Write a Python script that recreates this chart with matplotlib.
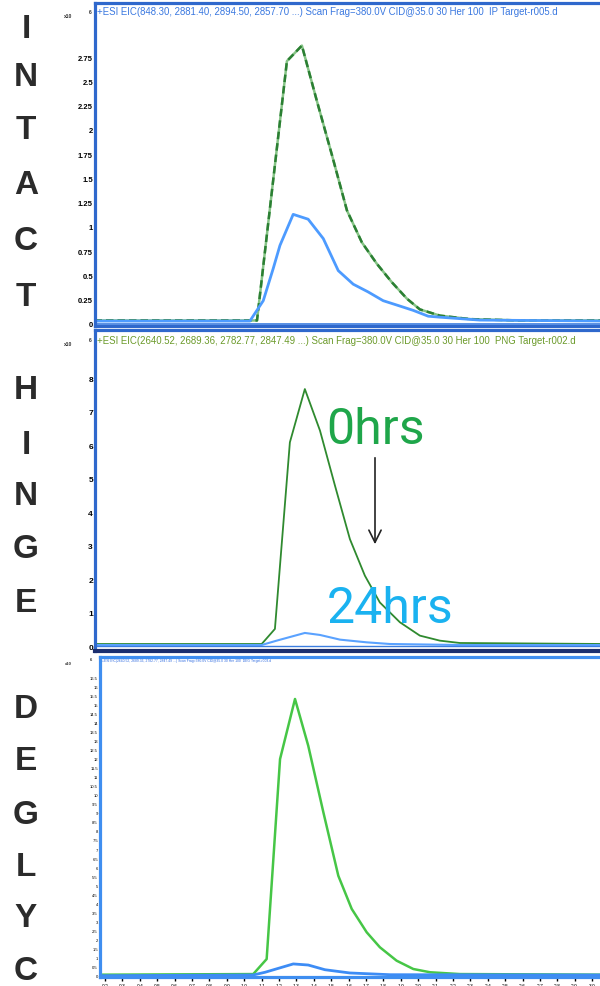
import matplotlib.pyplot as plt

# --- data (x = scan index, y = intensity) ---------------------------------
intact_0h_x = [-0.6, 8.74, 10.46, 11.32, 12.18, 13.05, 13.91, 14.77, 15.63,
               16.49, 17.36, 18.10, 19.25, 20.98, 23.85, 28.8]
intact_0h_y = [0.036, 0.036, 2.71, 2.87, 2.30, 1.74, 1.17, 0.84, 0.62,
               0.43, 0.26, 0.15, 0.086, 0.05, 0.036, 0.036]
intact_24h_x = [-0.6, 8.33, 9.10, 9.67, 10.06, 10.82, 11.68, 12.55, 13.41,
                14.27, 15.13, 15.99, 16.86, 17.72, 18.58, 19.25, 21.55, 28.8]
intact_24h_y = [0.03, 0.03, 0.24, 0.57, 0.81, 1.13, 1.08, 0.88, 0.55,
                0.41, 0.33, 0.24, 0.19, 0.14, 0.08, 0.07, 0.04, 0.03]

hinge_0h_x = [-0.6, 9.01, 9.77, 10.63, 11.49, 12.36, 13.22, 14.08, 14.94,
              15.80, 16.95, 18.10, 19.25, 20.40, 28.8]
hinge_0h_y = [0.06, 0.06, 0.51, 6.08, 7.67, 6.43, 4.79, 3.19, 2.10,
              1.30, 0.71, 0.31, 0.16, 0.09, 0.06]
hinge_24h_x = [-0.6, 9.01, 9.87, 11.49, 12.36, 13.51, 15.04, 16.38, 20.40, 28.8]
hinge_24h_y = [0.03, 0.03, 0.16, 0.39, 0.33, 0.19, 0.11, 0.06, 0.03, 0.03]

degly_0h_x = [-0.3, 8.52, 9.29, 10.06, 10.92, 11.68, 12.55, 13.41, 14.18,
              15.04, 15.80, 16.76, 17.72, 18.68, 20.40, 28.8]
degly_0h_y = [0.055, 0.09, 0.92, 11.97, 15.29, 12.71, 9.03, 5.52, 3.69,
              2.40, 1.57, 0.83, 0.37, 0.19, 0.09, 0.055]
degly_24h_x = [-0.3, 8.52, 9.20, 10.82, 11.68, 12.64, 14.08, 16.38, 28.8]
degly_24h_y = [0.0, 0.04, 0.19, 0.65, 0.59, 0.33, 0.15, 0.055, 0.04]

intact_ticks = [0, 0.25, 0.5, 0.75, 1, 1.25, 1.5, 1.75, 2, 2.25, 2.5, 2.75]
intact_labels = ['0', '0.25', '0.5', '0.75', '1', '1.25', '1.5', '1.75',
                 '2', '2.25', '2.5', '2.75']
hinge_ticks = [0, 1, 2, 3, 4, 5, 6, 7, 8]
degly_ticks = [i * 0.5 for i in range(34)]
scan_ticks = list(range(29))

titulos = [
    '+ESI EIC(848.30, 2881.40, 2894.50, 2857.70 ...) Scan Frag=380.0V CID@35.0 30 Her 100  IP Target-r005.d',
    '+ESI EIC(2640.52, 2689.36, 2782.77, 2847.49 ...) Scan Frag=380.0V CID@35.0 30 Her 100  PNG Target-r002.d',
    '+ESI EIC(2640.52, 2689.36, 2782.77, 2847.49 ...) Scan Frag=380.0V CID@35.0 30 Her 100  DEG Target-r003.d',
]
letras = ['INTACT', 'HINGE', 'DEGLYC']

W, H = 600, 987
fig = plt.figure(figsize=(6, 9.87), dpi=100)
plt.rcParams['font.family'] = ['Liberation Sans', 'DejaVu Sans']


def caja(left, top, right, bottom):
    return [left / W, 1 - bottom / H, (right - left) / W, (bottom - top) / H]


ax1 = fig.add_axes(caja(95, 4, 605, 327))
ax2 = fig.add_axes(caja(95, 331, 605, 652))
ax3 = fig.add_axes(caja(100, 658, 605, 978))

azul_marco = '#2f68cc'

# --- INTACT ---
ax1.plot(intact_0h_x, intact_0h_y, color='#86c486', lw=1.8)
ax1.plot(intact_0h_x, intact_0h_y, color='#2b7f33', lw=1.8, dashes=(3, 1.6))
ax1.plot(intact_24h_x, intact_24h_y, color='#4d9bff', lw=2.0)
ax1.axhline(0, color='#3b7de0', lw=1.2)
ax1.set_xlim(-0.57, 28.74)
ax1.set_ylim(-0.021, 3.309)
ax1.set_yticks(intact_ticks)
ax1.set_yticklabels(intact_labels, fontsize=5.5, fontweight='bold')

# --- HINGE ---
ax2.plot(hinge_0h_x, hinge_0h_y, color='#2f8a2f', lw=1.3)
ax2.plot(hinge_24h_x, hinge_24h_y, color='#5aa2ff', lw=1.5)
ax2.axhline(0, color='#3b7de0', lw=1.0)
ax2.set_xlim(-0.57, 28.74)
ax2.set_ylim(-0.149, 9.433)
ax2.set_yticks(hinge_ticks)
ax2.set_yticklabels([str(t) for t in hinge_ticks], fontsize=6, fontweight='bold')

ax2.text(376 / W, 1 - 430 / H, '0hrs', transform=fig.transFigure,
         fontsize=36, color='#1fa64a', family='Roboto', ha='center', va='center')
ax2.text(390 / W, 1 - 609 / H, '24hrs', transform=fig.transFigure,
         fontsize=36, color='#1ab2f0', family='Roboto', ha='center', va='center')
ax2.annotate('', xy=(375 / W, 1 - 548 / H), xytext=(375 / W, 1 - 456 / H),
             xycoords='figure fraction', textcoords='figure fraction',
             arrowprops=dict(arrowstyle='->', color='#222222', lw=1.2,
                             mutation_scale=22))

# --- DEGLYC ---
ax3.plot(degly_0h_x, degly_0h_y, color='#46c646', lw=1.8)
ax3.plot(degly_24h_x, degly_24h_y, color='#3d8cf5', lw=2.0)
ax3.set_xlim(-0.29, 28.74)
ax3.set_ylim(-0.072, 17.61)
ax3.set_yticks(degly_ticks)
ax3.set_yticklabels([f'{t:g}' for t in degly_ticks], fontsize=3)
ax3.set_xticks(scan_ticks)
ax3.set_xticklabels([f'{0.2 + 0.1 * t:.1f}' for t in scan_ticks], fontsize=3.5)
ax3.tick_params(axis='x', direction='out', length=3, width=1, pad=1)

for ax in (ax1, ax2):
    ax.set_xticks([])
for ax in (ax1, ax2, ax3):
    ax.tick_params(axis='y', length=0, pad=1.5)
    for s in ax.spines.values():
        s.set_color(azul_marco)
        s.set_linewidth(2.3)
for s in ax3.spines.values():
    s.set_color('#3f8ef0')
ax2.spines['bottom'].set_color('#1b2f70')
ax2.spines['bottom'].set_linewidth(3)

# titulos de cada panel
ax1.text(97 / W, 1 - 12 / H, titulos[0], transform=fig.transFigure,
         fontsize=6.9, color='#3a78e0', va='center')
ax2.text(97 / W, 1 - 341 / H, titulos[1], transform=fig.transFigure,
         fontsize=6.9, color='#6b9a2a', va='center')
ax3.text(102 / W, 1 - 661 / H, titulos[2], transform=fig.transFigure,
         fontsize=2.4, color='#2f6be0', va='center')

# multiplicadores x10^6
for ytxt, tam in ((17, 3.6), (345, 3.6), (664, 3.0)):
    fig.text(72 / W, 1 - ytxt / H, 'x10', fontsize=tam, fontweight='bold',
             color='#333333', ha='right', va='center')
    fig.text(92 / W, 1 - (ytxt - 4) / H, '6', fontsize=tam, fontweight='bold',
             color='#333333', ha='right', va='center')

# letras verticales a la izquierda
centros = [
    [29, 78, 131, 185, 242, 297],
    [391, 445, 497, 549, 604],
    [709, 762, 815, 868, 919, 972],
]
for palabra, ys in zip(letras, centros):
    for letra, yc in zip(palabra, ys):
        fig.text(26 / W, 1 - yc / H, letra, fontsize=24, fontweight='bold',
                 color='#2b2b2b', ha='center', va='center')

plt.savefig('out.png', dpi=100)
